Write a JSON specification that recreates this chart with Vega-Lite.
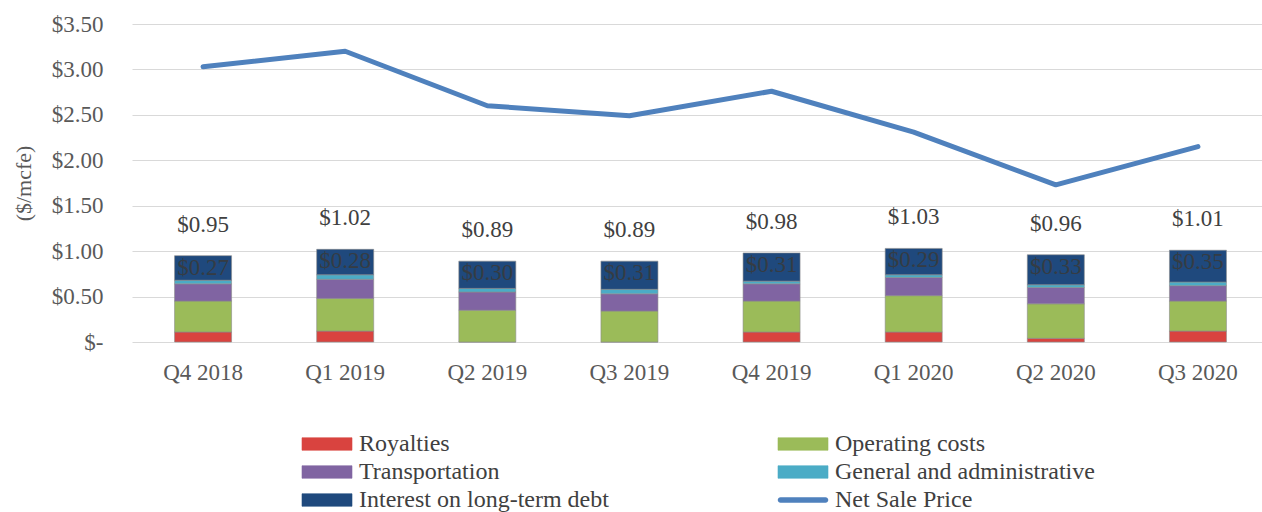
{
  "$schema": "https://vega.github.io/schema/vega-lite/v6.json",
  "autosize": {"type": "none"},
  "width": 1130,
  "height": 318,
  "padding": {"left": 132, "top": 24, "right": 0, "bottom": 170},
  "background": "white",
  "config": {
    "view": {"stroke": null},
    "font": "Liberation Serif",
    "text": {"font": "Liberation Serif"},
    "axis": {"labelFont": "Liberation Serif", "titleFont": "Liberation Serif", "labelFontSize": 23, "labelColor": "#595959", "titleColor": "#595959", "titleFontWeight": "normal", "titleFontSize": 22},
    "legend": {"labelFont": "Liberation Serif"}
  },
  "datasets": {
    "costs": [
      {"quarter": "Q4 2018", "category": "Royalties", "order": 1, "value": 0.11},
      {"quarter": "Q4 2018", "category": "Operating costs", "order": 2, "value": 0.34},
      {"quarter": "Q4 2018", "category": "Transportation", "order": 3, "value": 0.19},
      {"quarter": "Q4 2018", "category": "General and administrative", "order": 4, "value": 0.04},
      {"quarter": "Q4 2018", "category": "Interest on long-term debt", "order": 5, "value": 0.27},
      {"quarter": "Q1 2019", "category": "Royalties", "order": 1, "value": 0.12},
      {"quarter": "Q1 2019", "category": "Operating costs", "order": 2, "value": 0.36},
      {"quarter": "Q1 2019", "category": "Transportation", "order": 3, "value": 0.21},
      {"quarter": "Q1 2019", "category": "General and administrative", "order": 4, "value": 0.05},
      {"quarter": "Q1 2019", "category": "Interest on long-term debt", "order": 5, "value": 0.28},
      {"quarter": "Q2 2019", "category": "Royalties", "order": 1, "value": 0.0},
      {"quarter": "Q2 2019", "category": "Operating costs", "order": 2, "value": 0.35},
      {"quarter": "Q2 2019", "category": "Transportation", "order": 3, "value": 0.2},
      {"quarter": "Q2 2019", "category": "General and administrative", "order": 4, "value": 0.04},
      {"quarter": "Q2 2019", "category": "Interest on long-term debt", "order": 5, "value": 0.3},
      {"quarter": "Q3 2019", "category": "Royalties", "order": 1, "value": 0.0},
      {"quarter": "Q3 2019", "category": "Operating costs", "order": 2, "value": 0.34},
      {"quarter": "Q3 2019", "category": "Transportation", "order": 3, "value": 0.19},
      {"quarter": "Q3 2019", "category": "General and administrative", "order": 4, "value": 0.05},
      {"quarter": "Q3 2019", "category": "Interest on long-term debt", "order": 5, "value": 0.31},
      {"quarter": "Q4 2019", "category": "Royalties", "order": 1, "value": 0.11},
      {"quarter": "Q4 2019", "category": "Operating costs", "order": 2, "value": 0.34},
      {"quarter": "Q4 2019", "category": "Transportation", "order": 3, "value": 0.19},
      {"quarter": "Q4 2019", "category": "General and administrative", "order": 4, "value": 0.03},
      {"quarter": "Q4 2019", "category": "Interest on long-term debt", "order": 5, "value": 0.31},
      {"quarter": "Q1 2020", "category": "Royalties", "order": 1, "value": 0.11},
      {"quarter": "Q1 2020", "category": "Operating costs", "order": 2, "value": 0.4},
      {"quarter": "Q1 2020", "category": "Transportation", "order": 3, "value": 0.2},
      {"quarter": "Q1 2020", "category": "General and administrative", "order": 4, "value": 0.03},
      {"quarter": "Q1 2020", "category": "Interest on long-term debt", "order": 5, "value": 0.29},
      {"quarter": "Q2 2020", "category": "Royalties", "order": 1, "value": 0.04},
      {"quarter": "Q2 2020", "category": "Operating costs", "order": 2, "value": 0.38},
      {"quarter": "Q2 2020", "category": "Transportation", "order": 3, "value": 0.18},
      {"quarter": "Q2 2020", "category": "General and administrative", "order": 4, "value": 0.03},
      {"quarter": "Q2 2020", "category": "Interest on long-term debt", "order": 5, "value": 0.33},
      {"quarter": "Q3 2020", "category": "Royalties", "order": 1, "value": 0.12},
      {"quarter": "Q3 2020", "category": "Operating costs", "order": 2, "value": 0.33},
      {"quarter": "Q3 2020", "category": "Transportation", "order": 3, "value": 0.17},
      {"quarter": "Q3 2020", "category": "General and administrative", "order": 4, "value": 0.04},
      {"quarter": "Q3 2020", "category": "Interest on long-term debt", "order": 5, "value": 0.35}
    ],
    "summary": [
      {"quarter": "Q4 2018", "net": 3.03, "total": 0.95},
      {"quarter": "Q1 2019", "net": 3.2, "total": 1.02},
      {"quarter": "Q2 2019", "net": 2.6, "total": 0.89},
      {"quarter": "Q3 2019", "net": 2.49, "total": 0.89},
      {"quarter": "Q4 2019", "net": 2.76, "total": 0.98},
      {"quarter": "Q1 2020", "net": 2.31, "total": 1.03},
      {"quarter": "Q2 2020", "net": 1.73, "total": 0.96},
      {"quarter": "Q3 2020", "net": 2.15, "total": 1.01}
    ]
  },
  "layer": [
    {
      "data": {"name": "costs"},
      "mark": {"type": "bar", "width": 57, "stroke": "#8c8c8c", "strokeWidth": 0.6},
      "encoding": {
        "x": {"field": "quarter", "type": "nominal",
          "scale": {"domain": ["Q4 2018", "Q1 2019", "Q2 2019", "Q3 2019", "Q4 2019", "Q1 2020", "Q2 2020", "Q3 2020"], "paddingInner": 0, "paddingOuter": 0, "range": [0, 1137]},
          "axis": {"title": null, "labelAngle": 0, "domain": false, "ticks": false, "labelPadding": 19}},
        "y": {"field": "value", "type": "quantitative", "stack": "zero",
          "scale": {"domain": [0, 3.5], "nice": false},
          "axis": {"title": "($/mcfe)", "values": [0, 0.5, 1, 1.5, 2, 2.5, 3, 3.5], "labelExpr": "datum.value == 0 ? '$-' : '$' + format(datum.value, '.2f')", "domain": false, "ticks": false, "labelPadding": 29, "gridColor": "#d9d9d9", "gridWidth": 1, "titlePadding": 16,
            "encode": {"labels": {"update": {"dx": {"signal": "datum.value == 0 ? -11 : 0"}}}}}},
        "color": {"field": "category", "type": "nominal",
          "scale": {"domain": ["Royalties", "Transportation", "Interest on long-term debt", "Operating costs", "General and administrative", "Net Sale Price"],
                    "range": ["#D9433F", "#8064A2", "#1F497D", "#9BBB59", "#4BACC6", "#4F81BD"]},
          "legend": {"title": null, "orient": "none", "legendX": 183, "legendY": 408, "columns": 2, "columnPadding": 167, "rowPadding": 4,
            "labelFont": "Liberation Serif", "labelFontSize": 24, "labelColor": "#404040", "labelOffset": 20, "labelLimit": 400,
            "symbolType": "M-2,-0.5L2,-0.5L2,0.5L-2,0.5Z", "symbolSize": 625, "symbolStrokeWidth": 0.6, "symbolStrokeColor": "#7f7f7f", "symbolOpacity": 1,
            "encode": {"symbols": {"update": {"shape": {"signal": "datum.value === 'Net Sale Price' ? 'M-1.8,-0.22L1.8,-0.22A0.22,0.22,0,0,1,1.8,0.22L-1.8,0.22A0.22,0.22,0,0,1,-1.8,-0.22Z' : 'M-2,-0.5L2,-0.5L2,0.5L-2,0.5Z'"}, "strokeWidth": {"signal": "datum.value === 'Net Sale Price' ? 0 : 0.6"}}}}}},
        "order": {"field": "order", "type": "quantitative"}
      }
    },
    {
      "data": {"name": "costs"},
      "transform": [
        {"stack": "value", "groupby": ["quarter"], "sort": [{"field": "order"}], "as": ["v0", "v1"]},
        {"filter": {"field": "category", "equal": "Interest on long-term debt"}}
      ],
      "mark": {"type": "text", "font": "Liberation Serif", "fontSize": 23, "color": "#3a3a3a", "opacity": 0.85, "baseline": "middle", "dy": 12},
      "encoding": {
        "x": {"field": "quarter", "type": "nominal"},
        "y": {"field": "v1", "type": "quantitative"},
        "text": {"field": "value", "type": "quantitative", "format": "$.2f"}
      }
    },
    {
      "data": {"name": "summary"},
      "mark": {"type": "line", "strokeWidth": 5, "strokeCap": "round", "strokeJoin": "round"},
      "encoding": {
        "x": {"field": "quarter", "type": "nominal"},
        "y": {"field": "net", "type": "quantitative"},
        "color": {"datum": "Net Sale Price"}
      }
    },
    {
      "data": {"name": "summary"},
      "mark": {"type": "text", "font": "Liberation Serif", "fontSize": 23, "color": "#404040", "baseline": "middle", "dy": -31},
      "encoding": {
        "x": {"field": "quarter", "type": "nominal"},
        "y": {"field": "total", "type": "quantitative"},
        "text": {"field": "total", "type": "quantitative", "format": "$.2f"}
      }
    }
  ]
}
